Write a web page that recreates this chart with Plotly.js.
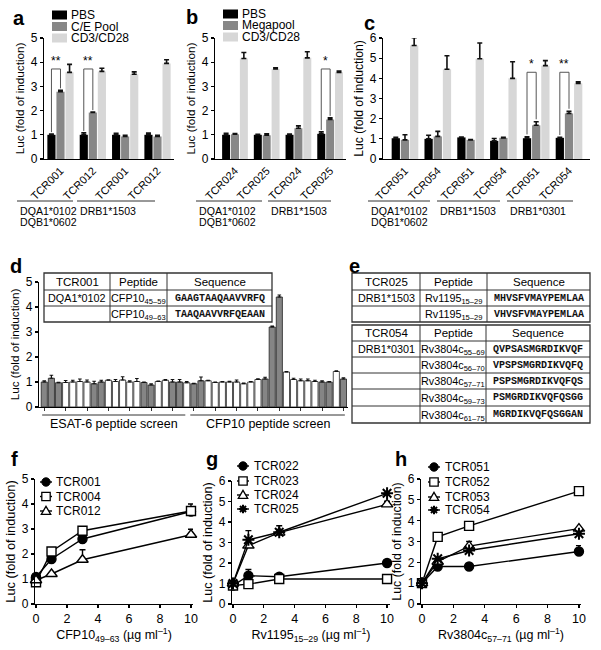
<!DOCTYPE html>
<html>
<head>
<meta charset="utf-8">
<script src="https://cdn.plot.ly/plotly-3.0.1.min.js"></script>
<style>html,body{margin:0;padding:0;background:#fff;}#chart{width:601px;height:650px;}</style>
</head>
<body>
<div id="chart"></div>
<script>
// ===================== DATA =====================
// Panel a
const aTcr = ['TCR001', 'TCR012', 'TCR001', 'TCR012'];
const aHla = ['DQ', 'DQ', 'DR15', 'DR15'];
const aPBS = [1.0, 1.0, 1.0, 1.0];
const aPBSErr = [0.03, 0.08, 0.06, 0.07];
const aPool = [2.78, 1.92, 0.93, 0.93];
const aPoolErr = [0.06, 0.02, 0.05, 0.05];
const aCD3 = [3.58, 3.62, 3.5, 3.95];
const aCD3Err = [0.33, 0.13, 0.1, 0.15];
const aLegend = ['PBS', 'C/E Pool', 'CD3/CD28'];
const aGroupText = [['DQA1*0102', 'DQB1*0602'], ['DRB1*1503']];
const aSig = [{g: 0, top: 3.72, label: '**'}, {g: 1, top: 3.72, label: '**'}];

// Panel b
const bTcr = ['TCR024', 'TCR025', 'TCR024', 'TCR025'];
const bHla = ['DQ', 'DQ', 'DR15', 'DR15'];
const bPBS = [1.0, 1.0, 1.0, 1.04];
const bPBSErr = [0.06, 0.02, 0.03, 0.08];
const bMega = [1.02, 0.98, 1.27, 1.63];
const bMegaErr = [0.03, 0.06, 0.1, 0.07];
const bCD3 = [4.15, 3.72, 4.18, 3.58];
const bCD3Err = [0.25, 0.05, 0.25, 0.05];
const bLegend = ['PBS', 'Megapool', 'CD3/CD28'];
const bGroupText = [['DQA1*0102', 'DQB1*0602'], ['DRB1*1503']];
const bSig = [{g: 3, top: 3.72, label: '*'}];

// Panel c
const cTcr = ['TCR051', 'TCR054', 'TCR051', 'TCR054', 'TCR051', 'TCR054'];
const cHla = ['DQ', 'DQ', 'DR15', 'DR15', 'DR03', 'DR03'];
const cPBS = [1.03, 1.0, 1.07, 0.9, 1.03, 1.05];
const cPBSErr = [0.05, 0.18, 0.02, 0.12, 0.07, 0.02];
const cMega = [0.95, 1.12, 0.95, 1.05, 1.67, 2.26];
const cMegaErr = [0.25, 0.25, 0.02, 0.02, 0.18, 0.11];
const cCD3 = [5.63, 4.45, 4.97, 4.0, 4.63, 3.75];
const cCD3Err = [0.38, 0.67, 0.78, 0.82, 0.25, 0.08];
const cGroupText = [['DQA1*0102', 'DQB1*0602'], ['DRB1*1503'], ['DRB1*0301']];
const cSig = [{g: 4, top: 4.3, label: '*'}, {g: 5, top: 4.3, label: '**'}];

// Panel d (peptide screen)
const dScreen = ['ESAT-6 peptide screen', 'CFP10 peptide screen'];
const dEsatVals = [1.0, 1.15, 0.97, 0.98, 1.0, 1.02, 1.0, 0.93, 1.0, 1.07, 1.02, 1.08, 1.0, 1.02, 0.98, 0.88, 1.02, 1.07, 1.0, 1.0, 0.97];
const dEsatErr  = [0.05, 0.12, 0.02, 0.08, 0.07, 0.1, 0.08, 0.1, 0.07, 0.02, 0.08, 0.13, 0.05, 0.12, 0.02, 0.05, 0.02, 0.03, 0.1, 0.1, 0.05];
const dEsatFill = ['g','g','g','w','w','w','w','g','g','w','w','w','w','w','g','g','w','w','g','g','w'];
const dCfpVals = [0.93, 1.05, 1.05, 0.98, 1.0, 1.0, 1.0, 0.93, 1.0, 1.1, 1.12, 3.2, 4.4, 1.4, 1.1, 1.05, 1.05, 1.02, 1.0, 1.0, 1.42, 1.12];
const dCfpErr  = [0.02, 0.15, 0.02, 0.02, 0.02, 0.03, 0.08, 0.03, 0.02, 0.03, 0.07, 0.04, 0.08, 0.02, 0.05, 0.07, 0.07, 0.05, 0.05, 0.02, 0.03, 0.05];
const dCfpFill = ['g','g','w','w','w','w','w','w','w','w','g','g','g','w','w','w','w','w','g','g','w','g'];
const dTableHead = ['TCR001', 'Peptide', 'Sequence'];
const dTableRows = [
  ['DQA1*0102', 'CFP10<sub>45–59</sub>', 'GAAGTAAQAAVVRFQ'],
  ['', 'CFP10<sub>49–63</sub>', 'TAAQAAVVRFQEAAN']
];

// Panel e (tables)
const e1Head = ['TCR025', 'Peptide', 'Sequence'];
const e1Rows = [
  ['DRB1*1503', 'Rv1195<sub>15–29</sub>', 'MHVSFVMAYPEMLAA'],
  ['', 'Rv1195<sub>15–29</sub>', 'VHVSFVMAYPEMLAA']
];
const e2Head = ['TCR054', 'Peptide', 'Sequence'];
const e2Rows = [
  ['DRB1*0301', 'Rv3804c<sub>55–69</sub>', 'QVPSASMGRDIKVQF'],
  ['', 'Rv3804c<sub>56–70</sub>', 'VPSPSMGRDIKVQFQ'],
  ['', 'Rv3804c<sub>57–71</sub>', 'PSPSMGRDIKVQFQS'],
  ['', 'Rv3804c<sub>59–73</sub>', 'PSMGRDIKVQFQSGG'],
  ['', 'Rv3804c<sub>61–75</sub>', 'MGRDIKVQFQSGGAN']
];

// Panels f, g, h (dose response)
const dose = [0, 1, 3, 10];
const fNames = ['TCR001', 'TCR004', 'TCR012'];
const fVals = [[1.08, 1.8, 2.6, 3.7], [0.87, 2.1, 2.93, 3.72], [0.95, 1.2, 1.77, 2.77]];
const fErr  = [[0.03, 0.05, 0.05, 0.3], [0.0, 0.0, 0.0, 0.1], [0.0, 0.0, 0.4, 0.22]];
const gNames = ['TCR022', 'TCR023', 'TCR024', 'TCR025'];
const gVals = [[0.9, 1.38, 1.33, 2.0], [0.9, 0.97, 1.22, 1.22], [1.0, 2.85, 3.48, 4.86], [1.0, 3.13, 3.5, 5.4]];
const gErr  = [[0.0, 0.3, 0.05, 0.0], [0.0, 0.0, 0.0, 0.0], [0.0, 0.0, 0.0, 0.15], [0.0, 0.45, 0.32, 0.0]];
const hNames = ['TCR051', 'TCR052', 'TCR053', 'TCR054'];
const hVals = [[1.0, 1.8, 1.8, 2.52], [1.0, 3.22, 3.75, 5.42], [1.0, 2.03, 2.78, 3.62], [1.0, 2.17, 2.57, 3.37]];
const hErr  = [[0.0, 0.05, 0.0, 0.28], [0.0, 0.0, 0.0, 0.0], [0.0, 0.0, 0.22, 0.0], [0.0, 0.0, 0.0, 0.0]];
const symbolsFour = ['circle', 'square', 'triangle-up', 'asterisk-open'];
const fTitle = 'CFP10<sub>49–63</sub> (µg ml<sup>–1</sup>)';
const gTitle = 'Rv1195<sub>15–29</sub> (µg ml<sup>–1</sup>)';
const hTitle = 'Rv3804c<sub>57–71</sub> (µg ml<sup>–1</sup>)';
const yTitle = 'Luc (fold of induction)';

// ===================== STYLE / LAYOUT HELPERS =====================
const W = 601, H = 650;
const X = p => p / W;
const Y = p => 1 - p / H;
const F = 'Liberation Sans, Arial, Helvetica, sans-serif';
const MONO = 'Liberation Mono, Courier New, monospace';
const C_BLACK = '#000000', C_GRAY = '#878787', C_LIGHT = '#d7d7d7';
const BARCOLORS = [C_BLACK, C_GRAY, C_LIGHT];
const BARGAP = 0.16;

const traces = [];
const shapes = [];
const annotations = [];

function ann(text, xp, yp, o = {}) {
  annotations.push(Object.assign({
    text, x: X(xp), y: Y(yp), xref: 'paper', yref: 'paper', showarrow: false,
    xanchor: 'left', yanchor: 'middle', font: {family: F, size: 11.5, color: '#000'}
  }, o));
}
function lineP(x0, y0, x1, y1, color = '#000', width = 1) {
  shapes.push({type: 'line', xref: 'paper', yref: 'paper', x0: X(x0), y0: Y(y0), x1: X(x1), y1: Y(y1), line: {color, width}});
}

function errUp(arr, thick = 1.6, w = 2.5, color = '#111') {
  return {type: 'data', symmetric: false, array: arr, arrayminus: arr.map(() => 0), color, thickness: thick, width: w, visible: true};
}

function yAxis(dom, range, titleSize, anchor) {
  return {domain: dom, range, dtick: 1, tick0: 0, anchor, showline: true, linecolor: '#000', linewidth: 1.2,
    ticks: 'outside', ticklen: 3, tickwidth: 1.2, tickcolor: '#000', showgrid: false, zeroline: false,
    tickfont: {family: F, size: 12, color: '#000'}, automargin: false, fixedrange: true,
    title: {text: yTitle, font: {family: F, size: titleSize, color: '#000'}, standoff: 3}};
}
function xCatAxis(dom, range, cats, labels, anchor) {
  return {domain: dom, type: 'category', range, anchor, showline: true, linecolor: '#000', linewidth: 1.2,
    ticks: '', tickangle: -45, tickvals: cats, ticktext: labels, showgrid: false, zeroline: false,
    tickfont: {family: F, size: 11, color: '#000'}, automargin: false, fixedrange: true};
}
function xLinAxis(dom, range, title, anchor) {
  return {domain: dom, range, dtick: 2, tick0: 0, anchor, showline: true, linecolor: '#000', linewidth: 1.2,
    ticks: 'outside', ticklen: 3, tickwidth: 1.2, tickcolor: '#000', showgrid: false, zeroline: false,
    tickfont: {family: F, size: 12.5, color: '#000'}, automargin: false, fixedrange: true,
    title: {text: title, font: {family: F, size: 12.5, color: '#000'}, standoff: 2}};
}

// ---- grouped bar panels (a, b, c) ----
function barPanel(ax, tcr, hla, series, errs, sig, pad) {
  const cats = tcr.map((t, i) => t + ' · ' + hla[i]);
  series.forEach((vals, k) => {
    traces.push({type: 'bar', x: cats, y: vals, xaxis: 'x' + ax.n, yaxis: 'y' + ax.n,
      marker: {color: BARCOLORS[k], line: {width: 0}}, error_y: errUp(errs[k]),
      showlegend: false, hoverinfo: 'skip'});
  });
  const slot = (1 - BARGAP) / 3;
  const xr = 'x' + ax.n, yr = 'y' + ax.n;
  sig.forEach(s => {
    const xl = s.g - slot, xm = s.g;
    const yl = series[0][s.g] + errs[0][s.g] + pad;
    const ym = series[1][s.g] + errs[1][s.g] + pad;
    const ln = {color: '#555', width: 1};
    shapes.push({type: 'line', xref: xr, yref: yr, x0: xl, x1: xl, y0: yl, y1: s.top, line: ln});
    shapes.push({type: 'line', xref: xr, yref: yr, x0: xl, x1: xm, y0: s.top, y1: s.top, line: ln});
    shapes.push({type: 'line', xref: xr, yref: yr, x0: xm, x1: xm, y0: s.top, y1: ym, line: ln});
    annotations.push({text: s.label, xref: xr, yref: yr, x: (xl + xm) / 2, y: s.top, yshift: -1,
      showarrow: false, xanchor: 'center', yanchor: 'bottom', font: {family: F, size: 12, color: '#000'}});
  });
  return cats;
}

const aCats = barPanel({n: ''}, aTcr, aHla, [aPBS, aPool, aCD3], [aPBSErr, aPoolErr, aCD3Err], aSig, 0.08);
const bCats = barPanel({n: 2}, bTcr, bHla, [bPBS, bMega, bCD3], [bPBSErr, bMegaErr, bCD3Err], bSig, 0.08);
const cCats = barPanel({n: 3}, cTcr, cHla, [cPBS, cMega, cCD3], [cPBSErr, cMegaErr, cCD3Err], cSig, 0.12);

// bar legends
function barLegend(labels, sx, tx, ys) {
  labels.forEach((lab, k) => {
    shapes.push({type: 'rect', xref: 'paper', yref: 'paper', x0: X(sx), x1: X(sx + 15), y0: Y(ys[k] + 4.5), y1: Y(ys[k] - 4.5),
      fillcolor: BARCOLORS[k], line: {width: 0}});
    ann(lab, tx, ys[k], {font: {family: F, size: 12, color: '#000'}});
  });
}
barLegend(aLegend, 52, 69, [15, 26.5, 38]);
barLegend(bLegend, 223, 240, [14, 25.5, 37]);

// HLA group labels under bar panels
function groupLabels(groups, spans) {
  groups.forEach((lines, i) => {
    lineP(spans[i][0], 201, spans[i][1], 201, '#333', 1);
    lines.forEach((t, j) => ann(t, spans[i][0] + 1, 211 + 11 * j, {font: {family: F, size: 10.6, color: '#000'}}));
  });
}
groupLabels(aGroupText, [[17, 73], [77, 155]]);
groupLabels(bGroupText, [[196, 262], [268, 331]]);
groupLabels(cGroupText, [[368, 430], [437, 500], [507, 573]]);

// ---- panel d ----
const dVals = dEsatVals.concat(dCfpVals);
const dErr = dEsatErr.concat(dCfpErr);
const dFill = dEsatFill.concat(dCfpFill);
const dCats = dVals.map((_, i) => (i < dEsatVals.length ? 'E' + (i + 1) : 'C' + (i - dEsatVals.length + 1)));
traces.push({type: 'bar', x: dCats, y: dVals, xaxis: 'x4', yaxis: 'y4', width: 0.86,
  marker: {color: dFill.map(f => (f === 'g' ? '#858585' : '#ffffff')), line: {color: '#222', width: 0.8}},
  error_y: errUp(dErr, 1.2, 1.8), showlegend: false, hoverinfo: 'skip'});
// screen group underlines + labels
const nE = dEsatVals.length, nC = dCfpVals.length;
[[ -0.3, nE - 1.2, 0], [nE - 0.5, nE + nC - 0.8, 1]].forEach(([a, b, k]) => {
  shapes.push({type: 'line', xref: 'x4', yref: 'paper', x0: a, x1: b, y0: Y(415), y1: Y(415), line: {color: '#333', width: 1}});
  annotations.push({text: dScreen[k], xref: 'x4', yref: 'paper', x: (a + b) / 2, y: Y(424), showarrow: false,
    xanchor: 'center', yanchor: 'middle', font: {family: F, size: 12.5, color: '#000'}});
});

// ---- tables ----
function table(head, rows, cols, rowsY) {
  const x0 = cols[0], x1 = cols[cols.length - 1], y0 = rowsY[0], y1 = rowsY[rowsY.length - 1];
  shapes.push({type: 'rect', xref: 'paper', yref: 'paper', x0: X(x0), x1: X(x1), y0: Y(y1), y1: Y(y0), line: {color: '#333', width: 1.3}});
  rowsY.slice(1, -1).forEach(y => lineP(x0, y, x1, y, '#333', 1));
  cols.slice(1, -1).forEach(x => lineP(x, y0, x, y1, '#333', 1));
  const all = [head].concat(rows);
  all.forEach((r, ri) => {
    const yc = (rowsY[ri] + rowsY[ri + 1]) / 2;
    r.forEach((t, ci) => {
      if (!t) return;
      const isSeq = ci === 2 && ri > 0;
      const xc = (cols[ci] + cols[ci + 1]) / 2;
      ann(t, xc, yc + (ci === 1 && ri > 0 ? 1 : 0), {xanchor: 'center',
        font: isSeq ? {family: MONO, size: 10, color: '#111', weight: 'bold'} : {family: F, size: ri === 0 ? 11.5 : 10.8, color: '#000'}});
    });
  });
}
table(dTableHead, dTableRows, [44, 110, 167, 272], [273, 290, 306, 322]);
table(e1Head, e1Rows, [352, 420, 487, 590], [273, 290, 306, 322]);
table(e2Head, e2Rows, [352, 420, 486, 590], [325, 341, 357, 373, 389, 406, 423]);

// ---- dose-response panels ----
function dosePanel(n, names, vals, errs, syms) {
  names.forEach((nm, k) => {
    const sym = syms[k];
    const filled = sym === 'circle';
    const ast = sym === 'asterisk-open';
    traces.push({type: 'scatter', mode: 'lines+markers', x: dose, y: vals[k], xaxis: 'x' + n, yaxis: 'y' + n,
      name: nm, cliponaxis: false, line: {color: '#000', width: 1.4},
      marker: {symbol: sym, size: ast ? 10 : (sym === 'triangle-up' ? 10 : 9), color: ast ? '#000' : (filled ? '#000' : '#fff'),
        line: {color: '#000', width: ast ? 2 : 1.4}},
      error_y: errUp(errs[k], 1.4, 3, '#000'), showlegend: false, hoverinfo: 'skip'});
  });
}
dosePanel(5, fNames, fVals, fErr, ['circle', 'square', 'triangle-up']);
dosePanel(6, gNames, gVals, gErr, symbolsFour);
dosePanel(7, hNames, hVals, hErr, symbolsFour);

function markerShape(sym, cx, cy) {
  const r = 4.2;
  if (sym === 'circle') {
    shapes.push({type: 'circle', xref: 'paper', yref: 'paper', x0: X(cx - r), x1: X(cx + r), y0: Y(cy + r), y1: Y(cy - r), fillcolor: '#000', line: {color: '#000', width: 1}});
  } else if (sym === 'square') {
    shapes.push({type: 'rect', xref: 'paper', yref: 'paper', x0: X(cx - r), x1: X(cx + r), y0: Y(cy + r), y1: Y(cy - r), fillcolor: '#fff', line: {color: '#000', width: 1.3}});
  } else if (sym === 'triangle-up') {
    shapes.push({type: 'path', xref: 'paper', yref: 'paper', fillcolor: '#fff', line: {color: '#000', width: 1.3},
      path: `M ${X(cx)},${Y(cy - r - 0.5)} L ${X(cx + r + 0.5)},${Y(cy + r * 0.8)} L ${X(cx - r - 0.5)},${Y(cy + r * 0.8)} Z`});
  } else {
    const d = r * 0.72;
    shapes.push({type: 'path', xref: 'paper', yref: 'paper', line: {color: '#000', width: 2},
      path: `M ${X(cx)},${Y(cy - r)} L ${X(cx)},${Y(cy + r)} M ${X(cx - r)},${Y(cy)} L ${X(cx + r)},${Y(cy)} M ${X(cx - d)},${Y(cy - d)} L ${X(cx + d)},${Y(cy + d)} M ${X(cx - d)},${Y(cy + d)} L ${X(cx + d)},${Y(cy - d)}`});
  }
}
function lineLegend(names, syms, lx0, lx1, tx, ys) {
  names.forEach((nm, k) => {
    lineP(lx0, ys[k], lx1, ys[k], '#000', 1.4);
    markerShape(syms[k], (lx0 + lx1) / 2, ys[k]);
    ann(nm, tx, ys[k], {font: {family: F, size: 12, color: '#000'}});
  });
}
lineLegend(fNames, ['circle', 'square', 'triangle-up'], 40, 52, 54, [482, 496.5, 511]);
lineLegend(gNames, symbolsFour, 237, 249, 252, [466, 481, 495, 509]);
lineLegend(hNames, symbolsFour, 428, 440, 443, [467, 482, 497, 510]);

// ---- panel letters ----
const letters = [['a', 11, 18], ['b', 184, 17], ['c', 362, 23], ['d', 8, 266], ['e', 347, 266], ['f', 9, 459], ['g', 204, 459], ['h', 393, 459]];
letters.forEach(([t, x, y]) => ann('<b>' + t + '</b>', x, y, {font: {family: F, size: 20, color: '#000'}}));

// ===================== LAYOUT =====================
const layout = {
  width: W, height: H, margin: {l: 0, r: 0, t: 0, b: 0}, autosize: false,
  paper_bgcolor: '#fff', plot_bgcolor: 'rgba(0,0,0,0)',
  barmode: 'group', bargap: BARGAP, bargroupgap: 0.1, showlegend: false,
  font: {family: F, color: '#000'},
  xaxis: xCatAxis([X(44), X(174)], [-0.51, 3.51], aCats, aTcr, 'y'),
  yaxis: yAxis([Y(159), Y(38)], [0, 5], 11.7, 'x'),
  xaxis2: xCatAxis([X(215), X(346)], [-0.63, 3.5], bCats, bTcr, 'y2'),
  yaxis2: yAxis([Y(159), Y(38)], [0, 5], 11.7, 'x2'),
  xaxis3: xCatAxis([X(383), X(590)], [-0.67, 5.64], cCats, cTcr, 'y3'),
  yaxis3: yAxis([Y(159), Y(38)], [0, 6], 12.2, 'x3'),
  xaxis4: {domain: [X(39), X(348)], type: 'category', range: [-0.74, dVals.length - 0.36], anchor: 'y4',
    showline: true, linecolor: '#000', linewidth: 1.2, ticks: 'outside', ticklen: 3, tickwidth: 0.8, tickcolor: '#000',
    showticklabels: false, showgrid: false, zeroline: false, automargin: false, fixedrange: true},
  yaxis4: yAxis([Y(407), Y(282)], [0, 5], 11.7, 'x4'),
  xaxis5: xLinAxis([X(35), X(193)], [-0.065, 10.13], fTitle, 'y5'),
  yaxis5: yAxis([Y(604), Y(479)], [0, 5], 12.8, 'x5'),
  xaxis6: xLinAxis([X(232), X(390)], [-0.065, 10.19], gTitle, 'y6'),
  yaxis6: yAxis([Y(604), Y(481)], [0, 6], 12.6, 'x6'),
  xaxis7: xLinAxis([X(421), X(581)], [-0.064, 10.13], hTitle, 'y7'),
  yaxis7: yAxis([Y(604), Y(479)], [0, 6], 12.4, 'x7'),
  shapes, annotations
};

Plotly.newPlot('chart', traces, layout, {staticPlot: true, displayModeBar: false});
</script>
</body>
</html>
